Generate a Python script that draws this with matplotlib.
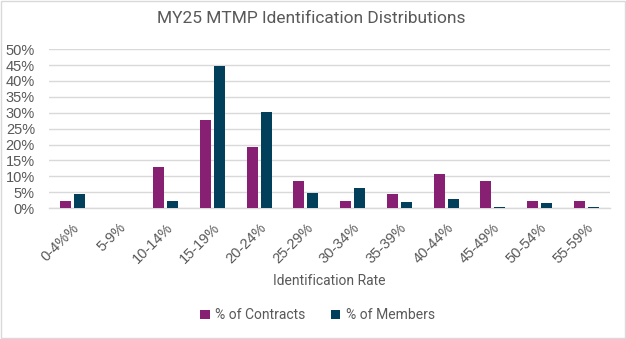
import matplotlib.pyplot as plt
import numpy as np
from matplotlib.patches import Rectangle

categories = ["0-4%%", "5-9%", "10-14%", "15-19%", "20-24%", "25-29%",
              "30-34%", "35-39%", "40-44%", "45-49%", "50-54%", "55-59%"]
pct_contracts = [2.1, 0.0, 12.8, 27.7, 19.1, 8.5, 2.1, 4.3, 10.6, 8.5, 2.1, 2.1]
pct_members = [4.4, 0.0, 2.2, 44.8, 30.2, 4.7, 6.3, 1.9, 2.8, 0.3, 1.6, 0.3]

purple = "#871F72"
navy = "#023F5B"
gray_text = "#595959"
grid_col = "#D9D9D9"

plt.rcParams['font.family'] = ['Roboto', 'DejaVu Sans']

fig = plt.figure(figsize=(6.26, 3.39), dpi=100)
ax = fig.add_axes([0.078, 0.386, 0.896, 0.469])

x = np.arange(len(categories))
w = 0.235
ax.bar(x - 0.15, pct_contracts, width=w, color=purple, label="% of Contracts", zorder=3)
ax.bar(x + 0.15, pct_members, width=w, color=navy, label="% of Members", zorder=3)

ax.set_xlim(-0.5, len(categories) - 0.5)
ax.set_ylim(0, 50)
ax.set_yticks(np.arange(0, 51, 5))
ax.set_yticklabels([f"{v}%" for v in range(0, 51, 5)], family="Liberation Sans")
ax.grid(axis="y", color=grid_col, linewidth=1, zorder=0)
for s in ["top", "right", "left"]:
    ax.spines[s].set_visible(False)
ax.spines["bottom"].set_color(grid_col)
ax.spines["bottom"].set_linewidth(1)
ax.tick_params(axis="both", length=0, colors=gray_text, labelsize=10.5)
ax.tick_params(axis="y", pad=10)

ax.set_xticks(x)
ax.set_xticklabels(categories, rotation=45, ha="right", rotation_mode="anchor",
                   family="Liberation Sans")
ax.tick_params(axis="x", pad=9)

ax.set_xlabel("Identification Rate", color=gray_text, fontsize=10, labelpad=6)
fig.text(0.497, 0.945, "MY25 MTMP Identification Distributions", color=gray_text,
         fontsize=12.5, ha="center", va="center")

fig.legend(loc="center", bbox_to_anchor=(0.507, 0.07), ncol=2, frameon=False,
           fontsize=10, labelcolor=gray_text, handlelength=0.7, handleheight=0.7,
           columnspacing=1.8, handletextpad=0.4)

fig.patches.append(Rectangle((0.001, 0.002), 0.997, 0.995, transform=fig.transFigure,
                             fill=False, edgecolor=grid_col, linewidth=1))

fig.savefig("out.png", dpi=100)
